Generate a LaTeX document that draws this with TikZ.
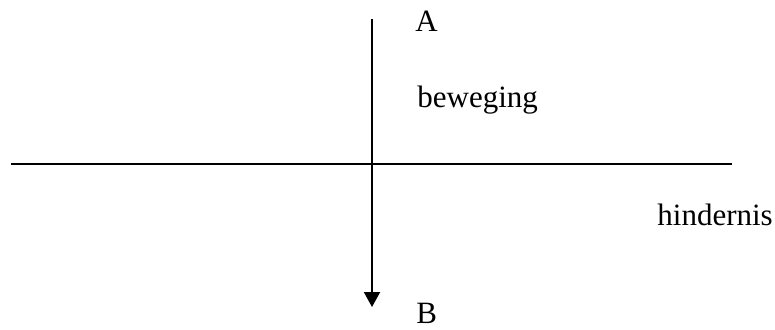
\documentclass[tikz,border=0pt]{standalone}
\usepackage{fontspec}
\setmainfont{Liberation Serif}
\usetikzlibrary{arrows.meta}

\begin{document}
\begin{tikzpicture}[
    x=0.5pt,y=-0.5pt,
    font=\fontsize{15.5}{18}\selectfont,
    label text/.style={anchor=base west,inner sep=0pt},
    path line/.style={line width=1pt,black}
]
    \useasboundingbox (0,0) rectangle (775,329);

    % Motion path A -> B and the obstacle line.
    \coordinate (top) at (372,19);
    \coordinate (bottom) at (372,307);
    \coordinate (left) at (11,164);
    \coordinate (right) at (732,164);

    \node[label text] (a) at (415,31) {A};
    \node[label text] (beweging) at (417,107) {beweging};
    \node[label text] (hindernis) at (657,225) {hindernis};
    \node[label text] (b) at (416,323) {B};

    \draw[path line] (left) -- (right);
    \draw[path line,-{Triangle[length=7.5pt,width=8pt]}] (top) -- (bottom);
\end{tikzpicture}
\end{document}
